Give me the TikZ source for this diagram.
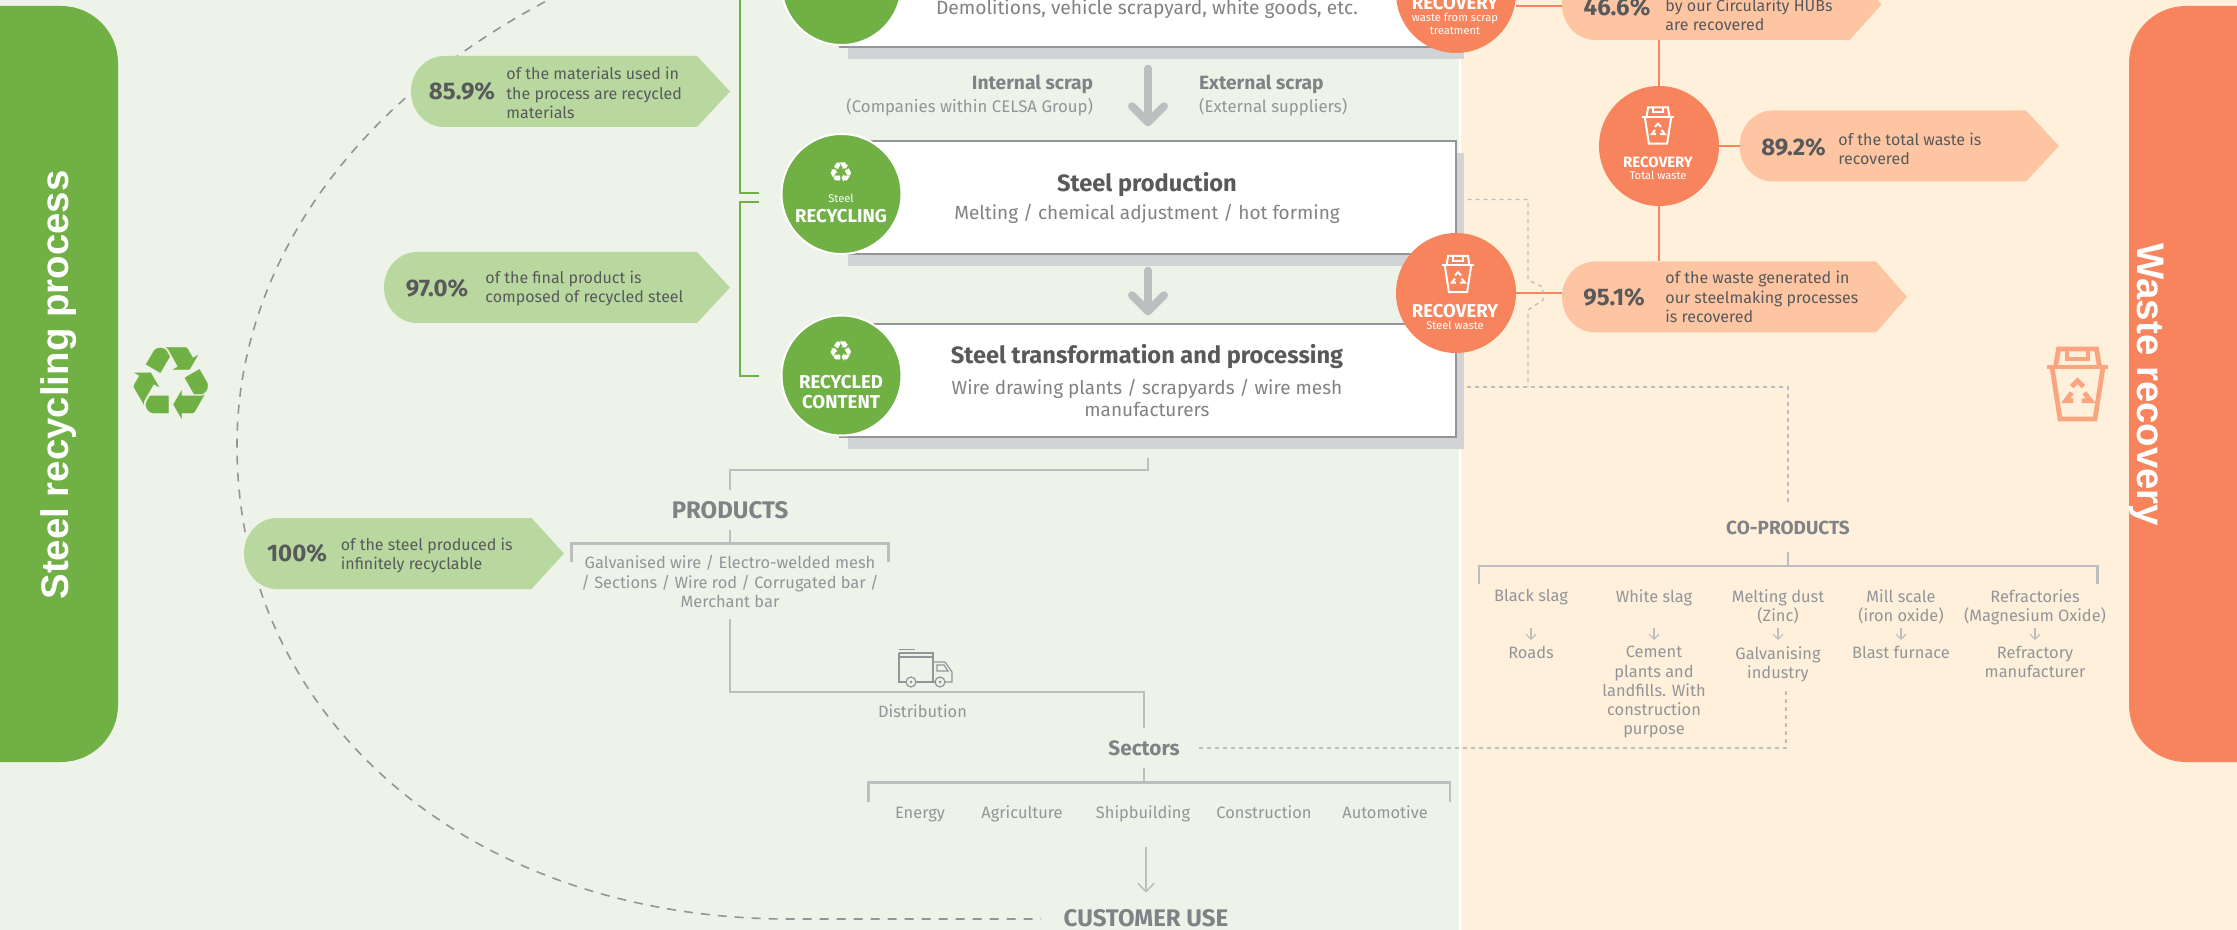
\documentclass[tikz,border=0pt]{standalone}
\usepackage{fontspec}
\setmainfont{Fira Sans}
\newfontfamily\iconfont{DejaVu Sans}
\newfontfamily\bandfont{Liberation Sans}
\usetikzlibrary{%
arrows.meta,%
shadows}
\definecolor{bggreen}{HTML}{EDF3E8}
\definecolor{bgorange}{HTML}{FFF0DC}
\definecolor{stgreen}{HTML}{70B044}
\definecolor{stgreenlight}{HTML}{B8D8A0}
\definecolor{storange}{HTML}{F7845C}
\definecolor{storangelight}{HTML}{FDC5A2}
\definecolor{storangeicon}{HTML}{FBA580}
\definecolor{txtdark}{HTML}{58595B}
\definecolor{txtmid}{HTML}{808285}
\definecolor{txtlight}{HTML}{939598}
\definecolor{linegray}{HTML}{BCBEC0}
\definecolor{boxshadow}{HTML}{D1D3D4}
\tikzset{
  stagebox/.style={draw=txtlight,fill=white,line width=0.7pt,minimum width=308pt,minimum height=56.5pt,inner sep=0pt,
    drop shadow={shadow xshift=4pt,shadow yshift=-6pt,opacity=1,fill=boxshadow}},
  stagedisc/.style={circle,fill=stgreen,draw=white,line width=1pt,minimum size=60pt,inner sep=0pt},
  wastedisc/.style={circle,fill=storange,minimum size=60pt,inner sep=0pt},
  pctvalue/.style={text=txtdark,font=\fontsize{12}{14}\selectfont\bfseries},
  pcttext/.style={anchor=west,align=left,inner sep=0pt,text=txtdark,font=\fontsize{8}{9.6}\selectfont},
  stagetitle/.style={text=txtdark,inner sep=0pt,font=\fontsize{11.8}{14}\selectfont\bfseries},
  stagesub/.style={text=txtmid,inner sep=0pt,align=center,font=\fontsize{9.5}{11}\selectfont},
  disclabel/.style={text=white,inner sep=0pt,align=center,font=\fontsize{9.3}{10}\selectfont\bfseries},
  discsmall/.style={text=white,inner sep=0pt,align=center,font=\fontsize{5.6}{6.6}\selectfont},
  greyhead/.style={text=txtmid,inner sep=0pt,font=\fontsize{12}{14}\selectfont\bfseries},
  greytext/.style={text=txtlight,inner sep=0pt,align=center,font=\fontsize{8.2}{9.6}\selectfont},
  bigarrow/.style={draw=linegray,line width=4pt,line cap=round,-{Straight Barb[length=8pt,width=16pt,round]}},
  conn/.style={draw=linegray,line width=1.2pt},
  thinarrow/.style={draw=linegray,line width=0.8pt,-{Straight Barb[length=4pt,width=8pt]}},
  dashconn/.style={draw=linegray,line width=0.7pt,dash pattern=on 2pt off 2pt},
  wasteline/.style={draw=storange,line width=1.2pt},
  stageline/.style={draw=stgreen,line width=1.2pt},
  recbin/.pic={
    \draw[line join=miter] (-22,-17) -- (-19,-35) -- (19,-35) -- (22,-17);
    \draw (-30.5,-17) -- (30.5,-17);
    \draw (-25.5,-17) -- (-17.5,35) -- (17.5,35) -- (25.5,-17);
    \draw (-10.5,-35) -- (-10.5,-25) -- (10.5,-25) -- (10.5,-35);
    \draw (-5.8,2.7) -- (0,-3.3) -- (5.8,2.7);
    \draw (-5.8,8.7) -- (-11.8,16.7) -- (-4.2,16.7);
    \draw (6.8,8.7) -- (13.2,16.7) -- (4.2,16.7);
  }
}
\newcommand{\pctpill}[6]{%
  \fill[#6] (#3,#5-35.5) -- (#4,#5) -- (#3,#5+35.5) -- (#2+33,#5+35.5)
    .. controls (#2+15,#5+35.5) and (#2,#5+20) .. (#2,#5)
    .. controls (#2,#5-20) and (#2+15,#5-35.5) .. (#2+33,#5-35.5) -- cycle;
  \coordinate (#1) at (#2,#5);
  \coordinate (#1top) at (#3,#5-35.5);
  \coordinate (#1bottom) at (#3,#5+35.5);
}
\begin{document}
\begin{tikzpicture}[x=0.5pt,y=-0.5pt]
\useasboundingbox (0,0) rectangle (2237,930);
\clip (0,0) rectangle (2237,930);
\fill[white] (0,0) rectangle (2237,930);
\fill[bggreen] (0,0) rectangle (1459,930);
\fill[bgorange] (1461,0) rectangle (2237,930);

% side bands
\fill[stgreen,rounded corners=28.5pt] (-80,6) rectangle (118,762);
\fill[storange,rounded corners=28.5pt] (2129,6) rectangle (2320,762);
\node[text=white,rotate=90,inner sep=0pt,font=\fontsize{19.2}{21}\selectfont\bandfont\bfseries] (bandsteel) at (59,385) {Steel recycling process};
\node[text=white,rotate=-90,inner sep=0pt,font=\fontsize{19.2}{21}\selectfont\bandfont\bfseries] (bandwaste) at (2147,385) {Waste recovery};
\node[text=stgreen,inner sep=0pt,font=\fontsize{51}{51}\selectfont\iconfont] (iconsteel) at (171,384) {♻};
\pic[draw=storangeicon,line width=2.4pt] (iconwaste) at (2077.5,384) {recbin};

% customer loop
\draw[draw=txtlight,line width=0.8pt,dash pattern=on 4.5pt off 4pt] (560,-6) .. controls (350,100) and (237,270) .. (237,445)
  .. controls (237,720) and (470,919) .. (790,919) -- (1041,919);

% percentage pills
\pctpill{pillused}{411}{697}{730}{91.5}{stgreenlight}
\pctpill{pillfinal}{384}{697}{730}{287.5}{stgreenlight}
\pctpill{pillinf}{244}{531.5}{564}{553.5}{stgreenlight}
\pctpill{pillhub}{1562}{1849.5}{1881.6}{4.5}{storangelight}
\pctpill{pilltotal}{1739.6}{2026}{2059}{146}{storangelight}
\pctpill{pillsteel}{1562}{1876}{1907}{297}{storangelight}
\node[pctvalue] (valused) at (462,91) {85.9\%};
\node[pcttext] (txtused) at (506,93) {of the materials used in\\the process are recycled\\materials};
\node[pctvalue] (valfinal) at (437,288) {97.0\%};
\node[pcttext] (txtfinal) at (485,288.5) {of the final product is\\composed of recycled steel};
\node[pctvalue] (valinf) at (297,553) {100\%};
\node[pcttext] (txtinf) at (340.5,555.5) {of the steel produced is\\infinitely recyclable};
\node[pctvalue] (valhub) at (1617,7) {46.6\%};
\node[pcttext] (txthub) at (1665,14.5) {by our Circularity HUBs\\are recovered};
\node[pctvalue] (valtotal) at (1793.5,147) {89.2\%};
\node[pcttext] (txttotal) at (1838,148.5) {of the total waste is\\recovered};
\node[pctvalue] (valsteel) at (1614,297) {95.1\%};
\node[pcttext] (txtsteel) at (1665,297) {of the waste generated in\\our steelmaking processes\\is recovered};

% stage brackets
\coordinate (brackone) at (759,193);
\coordinate (bracktwo) at (759,202);
\coordinate (brackthree) at (759,376);
\draw[stageline] (740,-10) |- (brackone);
\draw[stageline] (bracktwo) -- (740,202) |- (brackthree);

% stages
\node[stagebox] (boxone) at (1148,-9.5) {};
\node[stagebox] (boxtwo) at (1148,197.5) {};
\node[stagebox] (boxthree) at (1148,380.5) {};
\node[stagesub,font=\fontsize{9.6}{11}\selectfont] (subone) at (1147,9.5) {Demolitions, vehicle scrapyard, white goods, etc.};
\node[stagetitle] (titletwo) at (1147,184.5) {Steel production};
\node[stagesub] (subtwo) at (1147,214) {Melting / chemical adjustment / hot forming};
\node[stagetitle] (titlethree) at (1147,357) {Steel transformation and processing};
\node[stagesub] (subthree) at (1147,398) {Wire drawing plants / scrapyards / wire mesh\\manufacturers};
\draw[bigarrow] ([yshift=-10.5pt]boxone.south) -- ([yshift=7pt]boxtwo.north);
\draw[bigarrow] ([yshift=-8pt]boxtwo.south) -- ([yshift=4pt]boxthree.north);
\node[text=txtmid,anchor=east,inner sep=0pt,font=\fontsize{9.6}{11}\selectfont\bfseries] (scrapint) at (1093.5,84) {Internal scrap};
\node[text=txtlight,anchor=east,inner sep=0pt,font=\fontsize{8.4}{10}\selectfont] (scrapintsub) at (1093.5,107) {(Companies within CELSA Group)};
\node[text=txtmid,anchor=west,inner sep=0pt,font=\fontsize{9.6}{11}\selectfont\bfseries] (scrapext) at (1198.7,84) {External scrap};
\node[text=txtlight,anchor=west,inner sep=0pt,font=\fontsize{8.4}{10}\selectfont] (scrapextsub) at (1198.7,107) {(External suppliers)};

% green discs
\node[stagedisc] (discone) at (841.5,-15) {};
\node[stagedisc] (disctwo) at (841.5,194) {};
\node[stagedisc] (discthree) at (841.5,375.5) {};
\node[text=white,inner sep=0pt,font=\fontsize{14}{14}\selectfont\iconfont] (icontwo) at (841,173) {♻};
\node[discsmall] (lbltwosmall) at (841,198) {Steel};
\node[disclabel] (lbltwo) at (841,216) {RECYCLING};
\node[text=white,inner sep=0pt,font=\fontsize{14}{14}\selectfont\iconfont] (iconthree) at (841,352) {♻};
\node[disclabel] (lblthree) at (841,392) {RECYCLED\\CONTENT};

% orange discs
\node[wastedisc] (rechub) at (1456,-7) {};
\node[wastedisc] (rectotal) at (1659,146) {};
\node[wastedisc] (recsteel) at (1456,293) {};
\draw[wasteline] (rechub.east |- pillhub) ++(0,1.5) -- ++(46,0);
\draw[wasteline] (rectotal.east) -- (rectotal.east -| pilltotal);
\draw[wasteline] (recsteel.east) -- (recsteel.east -| pillsteel);
\draw[wasteline] (rectotal.north) -- (rectotal.north |- pillhubbottom);
\draw[wasteline] (rectotal.south) -- (rectotal.south |- pillsteeltop);
\node[disclabel] (lblhub) at (1455,3) {RECOVERY};
\node[discsmall] (lblhubsmall) at (1455,23.5) {waste from scrap\\treatment};
\pic[draw=white,line width=1pt,scale=0.52] (bintotal) at (1658,125.5) {recbin};
\node[disclabel,font=\fontsize{7.5}{8}\selectfont\bfseries] (lbltotal) at (1658,162) {RECOVERY};
\node[discsmall] (lbltotalsmall) at (1658,175) {Total waste};
\pic[draw=white,line width=1pt,scale=0.52] (binsteel) at (1458,274) {recbin};
\node[disclabel] (lblsteel) at (1455,311) {RECOVERY};
\node[discsmall] (lblsteelsmall) at (1455,325) {Steel waste};

% products
\node[greyhead,minimum height=20pt] (productslabel) at (730,510) {PRODUCTS};
\node[greytext,minimum width=158pt,minimum height=37.5pt] (productslist) at (730,581.5) {Galvanised wire / Electro-welded mesh\\/ Sections / Wire rod / Corrugated bar /\\Merchant bar};
\coordinate (prodturn) at (730,470);
\coordinate (distturn) at (1144,692);
\node[greyhead,font=\fontsize{10.4}{12}\selectfont\bfseries,minimum height=20pt,minimum width=55pt] (sectorslabel) at (1144,748) {Sectors};
\draw[conn] ([yshift=-10pt]boxthree.south) |- (prodturn) -- (productslabel.north);
\draw[conn] (productslabel.south) -- (productslist.north);
\draw[conn] ([yshift=-9pt]productslist.north west) |- (productslist.north east) -- ++(0,18);
\draw[conn] (productslist.south) |- (distturn) -- (sectorslabel.north);
\node[greytext] (distlabel) at (922.5,711) {Distribution};

% truck
\begin{scope}[draw=txtlight,line width=0.6pt]
\draw (899,653) -- (933,653) -- (933,682) -- (916,682);
\draw (906,682) -- (899,682) -- (899,653);
\draw (899,657) -- (933,657);
\draw (899,649.5) -- (915,649.5);
\draw (933,662) -- (945,662) -- (952,672) -- (952,682) -- (945,682);
\draw (935,682) -- (933,682);
\draw (937,665) -- (944,665) -- (948,671) -- (937,671) -- cycle;
\draw (911,682) circle (5);
\draw (940,682) circle (5);
\fill[txtlight] (911,682) circle (1.5);
\fill[txtlight] (940,682) circle (1.5);
\end{scope}

% sectors
\node[minimum width=290.25pt,minimum height=32pt,inner sep=0pt] (sectorrow) at (1159.25,815) {};
\draw[conn] (sectorslabel.south) -- (sectorslabel |- sectorrow.north);
\draw[conn] ([yshift=-9.5pt]sectorrow.north west) |- (sectorrow.north east) -- ++(0,19);
\foreach \x/\sectorname in {920/Energy,1022/Agriculture,1143/Shipbuilding,1264/Construction,1385/Automotive}
  \node[greytext,text height=6pt,text depth=2pt] (sector\sectorname) at (\x,814) {\sectorname};
\node[greyhead,minimum height=25pt] (customeruse) at (1146,918) {CUSTOMER USE};
\draw[thinarrow] (customeruse.north |- sectorrow.south) -- (customeruse.north);

% co-products
\node[greyhead,font=\fontsize{9.5}{11}\selectfont\bfseries,minimum height=24.5pt] (coproductslabel) at (1788,527.5) {CO-PRODUCTS};
\coordinate (coprodleft) at (1479,566);
\coordinate (coprodright) at (2097.6,566);
\coordinate (bendtop) at (1528,280);
\coordinate (bendbottom) at (1528,387);
\coordinate (dashend) at (1786,688);
\draw[dashconn] ([xshift=5.5pt,yshift=-1pt]boxtwo.east) -| (bendtop) -- (1543,287) -- (1543,300) -- (1528,310) -- (bendbottom);
\draw[dashconn] ([xshift=5pt,yshift=-3.25pt]boxthree.east) -| (coproductslabel.north);
\draw[dashconn] (sectorslabel.east) -| (dashend);
\draw[conn] (coproductslabel.south) -- (coproductslabel |- coprodleft);
\draw[conn] ([yshift=-9pt]coprodleft) -- (coprodleft) -- (coprodright) -- ([yshift=-9pt]coprodright);
\coordinate (arrowtop) at (0,628);
\coordinate (arrowend) at (0,640);
\foreach \cname/\x/\ctop/\cbottom in {blackslag/1531/Black slag/Roads,
  whiteslag/1654/White slag/Cement\\plants and\\landfills. With\\construction\\purpose,
  meltingdust/1778/Melting dust\\(Zinc)/Galvanising\\industry,
  millscale/1901/Mill scale\\(iron oxide)/Blast furnace,
  refractories/2035/Refractories\\(Magnesium Oxide)/Refractory\\manufacturer}
{
  \node[greytext,anchor=north] (\cname) at (\x,589) {\ctop};
  \node[greytext,anchor=north] (\cname use) at (\x,646) {\cbottom};
  \draw[thinarrow,line width=0.6pt,-{Straight Barb[length=2.5pt,width=5pt]}] (\cname |- arrowtop) -- (\cname |- arrowend);
}
\end{tikzpicture}
\end{document}
